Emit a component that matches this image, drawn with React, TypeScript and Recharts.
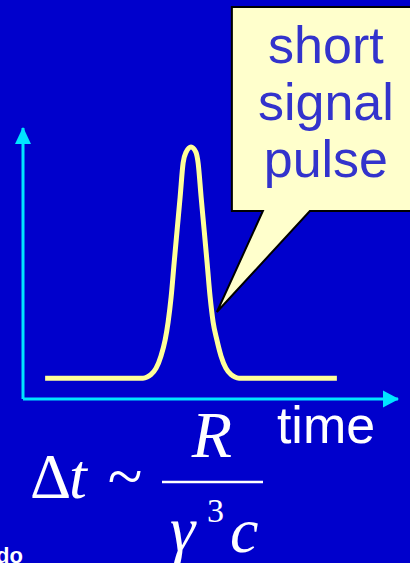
import React from 'react';
import { LineChart, Line, XAxis, YAxis, ReferenceDot } from 'recharts';

// Pulse signal (time in arbitrary units 0..100, amplitude 0..100)
const timeValues = [5.9, 32.0, 33.1, 34.1, 35.5, 36.8, 37.9, 38.7, 39.5, 40.3, 41.1, 41.9, 42.7, 43.5, 44.8, 46.1, 46.7, 47.5, 48.3, 49.1, 49.9, 50.7, 51.7, 52.8, 54.1, 55.5, 56.5, 57.6, 83.7];
const amplitudeValues = [7.7, 7.7, 8.1, 9.0, 11.4, 15.9, 21.8, 28.4, 37.6, 50.2, 62.4, 74.5, 87.1, 91.1, 93.0, 91.1, 87.1, 74.5, 62.4, 50.2, 37.6, 28.4, 21.8, 15.9, 11.4, 9.0, 8.1, 7.7, 7.7];
const calloutLines = ['short', 'signal', 'pulse'];
const calloutPoint = { time: 51.7, amplitude: 32.1 };
const axisLabel = 'time';

const data = timeValues.map((t, i) => ({ time: t, amplitude: amplitudeValues[i] }));

const BG = '#0000CC';
const CYAN = '#00E5FF';
const YELLOW = '#FFFF99';

const ArrowRight = (props: any) => {
  const { cx, cy } = props;
  return <polygon points={`${cx + 1},${cy} ${cx - 15},${cy - 8.5} ${cx - 15},${cy + 8.5}`} fill={CYAN} />;
};
const ArrowUp = (props: any) => {
  const { cx, cy } = props;
  return <polygon points={`${cx},${cy - 1} ${cx - 8},${cy + 16} ${cx + 8},${cy + 16}`} fill={CYAN} />;
};

const Callout = (props: any) => {
  const { cx, cy } = props;
  const d = `M${cx + 15},${cy - 305} L${cx + 200},${cy - 305} L${cx + 200},${cy - 101} L${cx + 93},${cy - 101} L${cx},${cy} L${cx + 46},${cy - 101} L${cx + 15},${cy - 101} Z`;
  return (
    <g>
      <path d={d} fill="#FFFFCC" stroke="#000000" strokeWidth={2} strokeLinejoin="miter" />
      {calloutLines.map((s, i) => (
        <text
          key={s}
          x={cx + 109}
          y={cy - 249 + i * 57}
          textAnchor="middle"
          fontFamily="'Liberation Sans', Arial, sans-serif"
          fontSize={52}
          fill="#3333CC"
        >
          {s}
        </text>
      ))}
    </g>
  );
};

const TimeLabel = (props: any) => {
  const vb = props.viewBox || { x: 23, y: 399, width: 375, height: 0 };
  return (
    <text
      x={vb.x + vb.width - 72}
      y={vb.y + 44}
      textAnchor="middle"
      fontFamily="'Liberation Sans', Arial, sans-serif"
      fontSize={52}
      fill="#FFFFFF"
    >
      {axisLabel}
    </text>
  );
};

export default function App() {
  const serif = "'Liberation Serif', 'Times New Roman', serif";
  return (
    <div style={{ position: 'absolute', left: 0, top: 0, width: 410, height: 563, background: BG, overflow: 'hidden' }}>
      <LineChart width={410} height={563} data={data} margin={{ top: 128, right: 12, bottom: 163, left: 22 }}>
        <XAxis
          dataKey="time"
          type="number"
          domain={[0, 100]}
          height={1}
          tick={false}
          tickLine={false}
          axisLine={{ stroke: CYAN, strokeWidth: 3 }}
          label={<TimeLabel />}
        />
        <YAxis
          type="number"
          domain={[0, 100]}
          width={1}
          tick={false}
          tickLine={false}
          axisLine={{ stroke: CYAN, strokeWidth: 3 }}
        />
        <Line
          dataKey="amplitude"
          type="monotone"
          stroke={YELLOW}
          strokeWidth={5}
          dot={false}
          activeDot={false}
          isAnimationActive={false}
        />
        <ReferenceDot x={100} y={0} r={0} ifOverflow="visible" shape={ArrowRight} />
        <ReferenceDot x={0} y={100} r={0} ifOverflow="visible" shape={ArrowUp} />
        <ReferenceDot x={calloutPoint.time} y={calloutPoint.amplitude} r={0} ifOverflow="visible" shape={Callout} />
      </LineChart>
      <svg width={410} height={563} style={{ position: 'absolute', left: 0, top: 0, pointerEvents: 'none' }}>
        <g fill="#FFFFFF" fontFamily={serif}>
          <text x={30} y={498} fontSize={64}>Δ</text>
          <text x={69} y={498} fontSize={64} fontStyle="italic">t</text>
          <text x={125} y={498} fontSize={64} textAnchor="middle">~</text>
          <line x1={162} x2={263} y1={482} y2={482} stroke="#FFFFFF" strokeWidth={2.5} />
          <text x={212} y={457} fontSize={66} fontStyle="italic" textAnchor="middle">R</text>
          <text x={170} y={550} fontSize={64} fontStyle="italic">γ</text>
          <text x={207} y={522} fontSize={34}>3</text>
          <text x={230} y={552} fontSize={64} fontStyle="italic">c</text>
        </g>
        <text x={-4} y={563} fontSize={22} fontWeight="bold" fill="#FFFFFF" fontFamily="'Liberation Sans', Arial, sans-serif">do</text>
      </svg>
    </div>
  );
}
